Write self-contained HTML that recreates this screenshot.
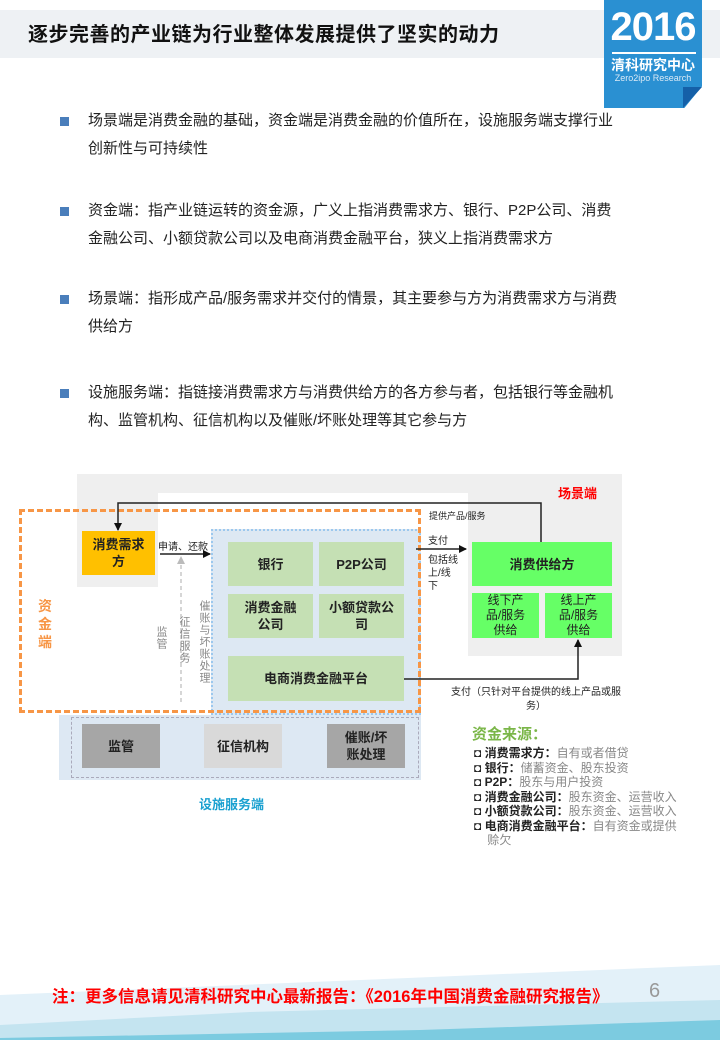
<!DOCTYPE html>
<html><head><meta charset="utf-8"><style>
*{margin:0;padding:0;box-sizing:border-box}
body{width:720px;height:1040px;position:relative;background:#fff;font-family:"Liberation Sans","Noto Sans CJK SC",sans-serif;overflow:hidden;color:#222}
.a{position:absolute}
.c{display:flex;align-items:center;justify-content:center;text-align:center;font-weight:bold;font-size:13px;line-height:17px}
.bl{position:absolute;left:60px;width:9px;height:9px;background:#4a7ebb}
.tx{position:absolute;left:88px;width:580px;font-size:15px;line-height:28px}
.v{writing-mode:vertical-rl;font-size:11px;color:#888;letter-spacing:1px}
.sm{font-size:10px;color:#222}
.li{font-size:12px;line-height:14.5px}
.li b{font-weight:bold}
.li span{color:#888}
</style></head><body>
<div class="a" style="left:0;top:10px;width:720px;height:48px;background:#eef1f4"></div>
<div class="a" style="left:28px;top:18px;font-size:20px;font-weight:bold;color:#111;letter-spacing:0.5px">逐步完善的产业链为行业整体发展提供了坚实的动力</div>
<div class="a" style="left:604px;top:0;width:98px;height:108px;background:#2a90d2;clip-path:polygon(0 0,100% 0,100% 80%,82% 100%,0 100%)"></div>
<div class="a" style="left:683px;top:87px;width:19px;height:21px;background:#1560a8;clip-path:polygon(100% 0,0 100%,0 0)"></div>
<div class="a" style="left:604px;top:4px;width:98px;text-align:center;color:#fff;font-size:40px;font-weight:bold;line-height:46px;letter-spacing:-1px">2016</div>
<div class="a" style="left:612px;top:52px;width:84px;height:2px;background:#fff"></div>
<div class="a" style="left:604px;top:55px;width:98px;text-align:center;color:#fff;font-size:14px;font-weight:bold">清科研究中心</div>
<div class="a" style="left:604px;top:73px;width:98px;text-align:center;color:#dbeaf6;font-size:9px">Zero2ipo Research</div>

<div class="bl" style="top:117px"></div><div class="tx" style="top:107px">场景端是消费金融的基础，资金端是消费金融的价值所在，设施服务端支撑行业<br>创新性与可持续性</div>
<div class="bl" style="top:207px"></div><div class="tx" style="top:197px">资金端：指产业链运转的资金源，广义上指消费需求方、银行、P2P公司、消费<br>金融公司、小额贷款公司以及电商消费金融平台，狭义上指消费需求方</div>
<div class="bl" style="top:295px"></div><div class="tx" style="top:285px">场景端：指形成产品/服务需求并交付的情景，其主要参与方为消费需求方与消费<br>供给方</div>
<div class="bl" style="top:389px"></div><div class="tx" style="top:379px">设施服务端：指链接消费需求方与消费供给方的各方参与者，包括银行等金融机<br>构、监管机构、征信机构以及催账/坏账处理等其它参与方</div>

<div class="a" style="left:77px;top:474px;width:545px;height:19px;background:#efefef"></div>
<div class="a" style="left:77px;top:474px;width:81px;height:113px;background:#efefef"></div>
<div class="a" style="left:468px;top:474px;width:154px;height:182px;background:#efefef"></div>
<div class="a" style="left:558px;top:483px;color:#f00;font-size:13px;font-weight:bold">场景端</div>
<div class="a" style="left:59px;top:715px;width:362px;height:65px;background:#dde8f3"></div>
<div class="a" style="left:71px;top:717px;width:348px;height:61px;border:1px dashed #aab"></div>
<div class="a" style="left:211px;top:529px;width:210px;height:186px;background:#dde8f3;border:2px dotted #9cc8ee"></div>
<div class="a" style="left:19px;top:509px;width:402px;height:204px;border:3px dashed #f79646"></div>
<div class="a" style="left:38px;top:597px;color:#f79646;font-size:14px;font-weight:bold;line-height:18px;width:14px">资金端</div>

<div class="a c" style="left:82px;top:531px;width:73px;height:44px;background:#ffc000">消费需求<br>方</div>
<div class="a c" style="left:228px;top:542px;width:85px;height:44px;background:#c5e0b4">银行</div>
<div class="a c" style="left:319px;top:542px;width:85px;height:44px;background:#c5e0b4">P2P公司</div>
<div class="a c" style="left:228px;top:594px;width:85px;height:44px;background:#c5e0b4">消费金融<br>公司</div>
<div class="a c" style="left:319px;top:594px;width:85px;height:44px;background:#c5e0b4">小额贷款公<br>司</div>
<div class="a c" style="left:228px;top:656px;width:176px;height:45px;background:#c5e0b4">电商消费金融平台</div>
<div class="a c" style="left:472px;top:542px;width:140px;height:44px;background:#66ff66">消费供给方</div>
<div class="a c" style="left:472px;top:593px;width:67px;height:45px;background:#66ff66;font-weight:normal;font-size:12px;line-height:15px">线下产<br>品/服务<br>供给</div>
<div class="a c" style="left:545px;top:593px;width:67px;height:45px;background:#66ff66;font-weight:normal;font-size:12px;line-height:15px">线上产<br>品/服务<br>供给</div>
<div class="a c" style="left:82px;top:724px;width:78px;height:44px;background:#a6a6a6">监管</div>
<div class="a c" style="left:204px;top:724px;width:78px;height:44px;background:#d9d9d9">征信机构</div>
<div class="a c" style="left:327px;top:724px;width:78px;height:44px;background:#a6a6a6">催账/坏<br>账处理</div>
<div class="a" style="left:199px;top:794px;color:#1aa0d0;font-size:13px;font-weight:bold">设施服务端</div>

<svg class="a" style="left:0;top:0" width="720" height="1040">
<defs><marker id="m" markerWidth="8" markerHeight="8" refX="7" refY="4" orient="auto" markerUnits="userSpaceOnUse"><path d="M0,0L8,4L0,8z" fill="#111"/></marker>
<marker id="g" markerWidth="8" markerHeight="8" refX="7" refY="4" orient="auto" markerUnits="userSpaceOnUse"><path d="M0,0L8,4L0,8z" fill="#bbb"/></marker></defs>
<polyline points="541,542 541,503 118,503 118,530" fill="none" stroke="#222" stroke-width="1.5" marker-end="url(#m)"/>
<line x1="160" y1="554" x2="210" y2="554" stroke="#222" stroke-width="1.5" marker-end="url(#m)"/>
<line x1="416" y1="549" x2="466" y2="549" stroke="#222" stroke-width="1.5" marker-end="url(#m)"/>
<polyline points="404,679 578,679 578,640" fill="none" stroke="#222" stroke-width="1.5" marker-end="url(#m)"/>
<line x1="181" y1="702" x2="181" y2="557" stroke="#bbb" stroke-width="1.2" stroke-dasharray="4,3" marker-end="url(#g)"/>
</svg>
<div class="a sm" style="left:158px;top:538px">申请、还款</div>
<div class="a v" style="left:153px;top:626px">监管</div>
<div class="a v" style="left:176px;top:616px">征信服务</div>
<div class="a v" style="left:196px;top:600px">催账与坏账处理</div>
<div class="a sm" style="left:429px;top:509px;font-size:9px">提供产品/服务</div>
<div class="a sm" style="left:428px;top:532px">支付</div>
<div class="a sm" style="left:428px;top:554px;line-height:13px">包括线<br>上/线<br>下</div>
<div class="a sm" style="left:441px;top:686px;width:190px;text-align:center;line-height:14px">支付（只针对平台提供的线上产品或服<br>务）</div>

<div class="a" style="left:472px;top:723px;color:#7ab648;font-size:15px;font-weight:bold">资金来源：</div>
<div class="a li" style="left:474px;top:746px;width:230px">
<div>◘ <b>消费需求方：</b><span>自有或者借贷</span></div>
<div>◘ <b>银行：</b><span>储蓄资金、股东投资</span></div>
<div>◘ <b>P2P：</b><span>股东与用户投资</span></div>
<div>◘ <b>消费金融公司：</b><span>股东资金、运营收入</span></div>
<div>◘ <b>小额贷款公司：</b><span>股东资金、运营收入</span></div>
<div>◘ <b>电商消费金融平台：</b><span>自有资金或提供<br>&nbsp;&nbsp;&nbsp;&nbsp;赊欠</span></div>
</div>

<svg class="a" style="left:0;top:950px" width="720" height="90">
<polygon points="0,45 720,15 720,90 0,90" fill="#e3f1f9"/>
<polygon points="0,75 250,62 720,50 720,90 0,90" fill="#c4e4f0"/>
<polygon points="0,88 420,80 720,70 720,90 0,90" fill="#7ccbe0"/>
</svg>
<div class="a" style="left:52px;top:983px;color:#f00;font-size:16.5px;font-weight:bold">注：更多信息请见清科研究中心最新报告：《2016年中国消费金融研究报告》</div>
<div class="a" style="left:649px;top:980px;color:#999;font-size:20px">6</div>
</body></html>
